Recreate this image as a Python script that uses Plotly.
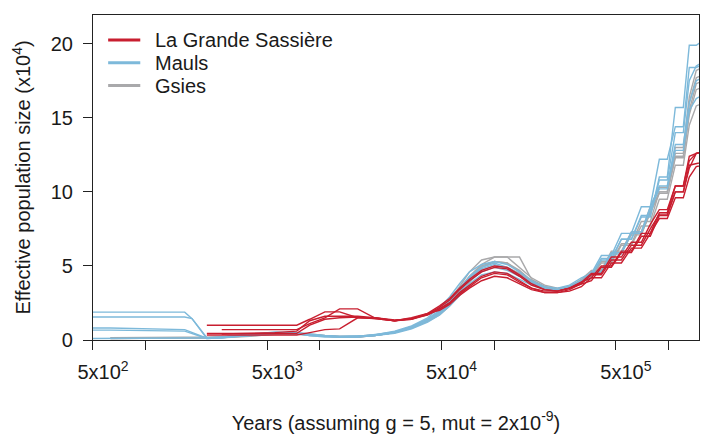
import plotly.graph_objects as go

# PSMC-style effective population size trajectories (x10^4), shared time grid (years)
years = [420, 630, 1680, 1850, 2250, 2740, 3970, 5520, 7380, 8760, 10700, 13000,
         16500, 20650, 26900, 33650, 41600, 48700, 55600, 63400, 72300, 84800,
         100600, 119000, 140000, 164000, 195000, 231000, 271000, 317000, 362000,
         413000, 471000, 538000, 614000, 700000, 788000, 888000, 986000, 1097000,
         1219000, 1319000, 1446000, 1717000]

gsies = [
    [None, 0.12, 0.12, 0.12, 0.15, 0.2, 0.3, 0.45, 0.45, 0.35, 0.25, 0.2, 0.2, 0.3, 0.5, 0.8,
     1.3, 1.8, 2.4, 3.2, 4.1, 4.9, 5.3, 5.2, 4.7, 4.0, 3.6, 3.4, 3.6, 4.0, 4.6, 4.6, 5.9,
     5.9, 7.2, 7.2, 8.6, 9.9, 9.9, 12.3, 12.3, 15.2, 16.9, 17.3],
    [None, 0.1, 0.1, 0.1, 0.12, 0.15, 0.25, 0.4, 0.4, 0.3, 0.25, 0.2, 0.22, 0.3, 0.5, 0.85,
     1.35, 1.9, 2.6, 3.4, 4.3, 5.1, 5.6, 5.6, 5.6, 4.1, 3.6, 3.4, 3.6, 4.0, 4.3, 5.3, 5.3,
     6.5, 6.5, 8.0, 8.0, 10.0, 10.0, 12.6, 12.6, 16.0, 17.7, 18.1],
    [None, 0.15, 0.15, 0.15, 0.15, 0.2, 0.35, 0.5, 0.5, 0.4, 0.3, 0.25, 0.25, 0.35, 0.55, 0.9,
     1.4, 2.0, 2.7, 3.6, 4.6, 5.4, 5.6, 5.6, 4.9, 4.2, 3.7, 3.5, 3.6, 4.1, 4.7, 4.7, 6.0,
     6.0, 7.3, 7.3, 9.0, 10.3, 10.3, 13.0, 13.0, 16.4, 18.2, 18.6],
    [None, 0.1, 0.1, 0.12, 0.15, 0.18, 0.3, 0.4, 0.45, 0.35, 0.25, 0.2, 0.2, 0.3, 0.5, 0.8,
     1.25, 1.7, 2.3, 3.0, 3.9, 4.7, 5.0, 4.9, 4.5, 3.9, 3.5, 3.4, 3.5, 3.9, 4.2, 5.2, 5.2,
     6.4, 6.4, 7.7, 7.7, 9.5, 9.5, 11.8, 11.8, 14.5, 15.8, 16.2],
    [None, 0.12, 0.12, 0.12, 0.15, 0.2, 0.3, 0.45, 0.45, 0.35, 0.28, 0.22, 0.22, 0.32, 0.5, 0.85,
     1.3, 1.85, 2.5, 3.3, 4.2, 5.0, 5.3, 5.2, 4.6, 4.0, 3.6, 3.4, 3.6, 4.0, 4.6, 4.6, 5.9,
     5.9, 7.1, 7.1, 8.6, 10.0, 10.0, 12.4, 12.4, 15.5, 17.3, 17.7],
]

mauls = [
    [1.88, 1.88, 1.88, 1.44, 0.1, 0.15, 0.35, 0.55, 0.5, 0.35, 0.25, 0.2, 0.22, 0.35, 0.55, 0.9,
     1.4, 2.0, 2.6, 3.5, 4.3, 4.9, 5.2, 4.9, 4.4, 3.9, 3.5, 3.4, 3.6, 4.0, 4.4, 5.5, 5.5,
     6.8, 6.8, 8.3, 8.3, 11.0, 11.0, 15.7, 15.7, 19.9, 19.9, 20.5],
    [1.55, 1.55, 1.55, 1.45, 0.15, 0.2, 0.4, 0.5, 0.45, 0.35, 0.25, 0.2, 0.2, 0.3, 0.5, 0.8,
     1.3, 1.8, 2.4, 3.2, 4.0, 4.6, 4.9, 4.7, 4.3, 3.8, 3.5, 3.3, 3.5, 3.9, 4.6, 4.6, 5.9,
     5.9, 7.3, 7.3, 9.0, 10.4, 10.4, 13.2, 13.2, 16.0, 17.5, 18.0],
    [0.81, 0.81, 0.7, 0.5, 0.12, 0.2, 0.3, 0.45, 0.4, 0.3, 0.25, 0.22, 0.25, 0.35, 0.6, 0.95,
     1.5, 2.2, 2.9, 3.8, 4.6, 5.1, 5.3, 5.1, 4.6, 4.0, 3.6, 3.5, 3.7, 4.2, 4.5, 5.7, 5.7,
     7.2, 7.2, 9.0, 9.0, 12.2, 12.2, 14.4, 14.4, 18.4, 18.4, 18.8],
    [0.67, 0.67, 0.6, 0.45, 0.1, 0.15, 0.35, 0.5, 0.45, 0.3, 0.2, 0.2, 0.22, 0.3, 0.45, 0.75,
     1.2, 1.7, 2.3, 3.0, 3.8, 4.4, 4.6, 4.5, 4.1, 3.7, 3.4, 3.3, 3.5, 3.9, 4.6, 4.6, 5.8,
     5.8, 7.2, 7.2, 8.8, 10.2, 10.2, 12.8, 12.8, 15.5, 16.3, 16.8],
    [0.1, 0.1, 0.1, 0.1, 0.1, 0.15, 0.3, 0.45, 0.5, 0.4, 0.3, 0.25, 0.25, 0.3, 0.5, 0.85,
     1.35, 1.9, 2.5, 3.4, 4.2, 4.8, 5.1, 4.8, 4.4, 3.9, 3.5, 3.4, 3.6, 4.0, 4.4, 5.4, 5.4,
     6.8, 6.8, 8.4, 8.4, 10.8, 10.8, 14.0, 14.0, 17.5, 18.5, 19.0],
]

sassiere = [
    [None, None, None, None, 1.0, 1.0, 1.0, 1.0, 1.0, 1.4, 1.9, 1.9, 1.5, 1.45, 1.3, 1.4,
     1.7, 2.1, 2.5, 3.2, 3.7, 4.3, 4.6, 4.5, 4.0, 3.5, 3.2, 3.2, 3.4, 3.8, 4.4, 4.4, 5.4,
     5.4, 6.4, 6.4, 7.5, 8.5, 8.5, 10.0, 10.0, 11.6, 12.6, 12.8],
    [None, None, None, None, None, 0.7, 0.7, 0.7, 0.7, 1.1, 1.5, 2.1, 2.1, 1.5, 1.3, 1.45,
     1.75, 2.2, 2.7, 3.4, 4.0, 4.6, 4.9, 4.8, 4.3, 3.7, 3.4, 3.3, 3.5, 3.9, 4.2, 5.0, 5.0,
     6.0, 6.0, 7.2, 7.2, 8.6, 8.6, 10.4, 10.4, 12.4, 12.6, 12.8],
    [None, None, None, None, 0.34, 0.34, 0.34, 0.34, 0.34, 0.5, 0.7, 0.75, 1.5, 1.5, 1.35, 1.4,
     1.8, 2.0, 2.4, 3.0, 3.5, 4.0, 4.3, 4.2, 3.8, 3.4, 3.2, 3.2, 3.3, 3.6, 4.2, 4.2, 5.2,
     5.2, 6.2, 6.2, 7.2, 8.2, 8.2, 9.6, 9.6, 11.0, 11.7, 11.9],
    [None, None, None, None, 0.45, 0.45, 0.45, 0.45, 0.45, 1.0, 1.4, 1.5, 1.55, 1.45, 1.3, 1.45,
     1.7, 2.1, 2.5, 3.1, 3.6, 4.2, 4.5, 4.4, 3.9, 3.5, 3.3, 3.3, 3.5, 3.8, 4.0, 4.9, 4.9,
     5.9, 5.9, 7.0, 7.0, 8.4, 8.4, 10.0, 10.0, 11.8, 11.9, 12.1],
    [None, None, None, None, None, 0.4, 0.45, 0.5, 0.6, 1.3, 1.6, 1.6, 1.6, 1.5, 1.3, 1.5,
     1.8, 2.3, 2.8, 3.5, 4.1, 4.7, 5.0, 4.9, 4.4, 3.8, 3.4, 3.3, 3.5, 3.9, 4.5, 4.5, 5.6,
     5.6, 6.6, 6.6, 7.8, 8.8, 8.8, 10.4, 10.4, 12.1, 12.6, 12.8],
]

# drawing order (back to front) and legend order (top to bottom)
populations = [('Gsies', gsies, '#a9a9ab'),
               ('Mauls', mauls, '#7db9da'),
               ('La Grande Sassière', sassiere, '#c81e2f')]
legend_order = ['La Grande Sassière', 'Mauls', 'Gsies']

x_tickvals = [500, 5000, 50000, 500000]
x_ticktext = ['5x10<sup>2</sup>', '5x10<sup>3</sup>', '5x10<sup>4</sup>', '5x10<sup>5</sup>']
x_minor = [1000, 10000, 100000, 1000000]
y_tickvals = [0, 5, 10, 15, 20]

FONT = 'Liberation Sans, Arial, sans-serif'
AX = '#222222'
FS = 20

fig = go.Figure()
colors = {}
for name, runs, color in populations:
    colors[name] = color
    for ys in runs:
        fig.add_trace(go.Scatter(x=years, y=ys, mode='lines', name=name,
                                 line=dict(color=color, width=1.4),
                                 showlegend=False, hoverinfo='skip'))

# R-style legend: short thick keys, tight rows, top-left inside the box
for i, name in enumerate(legend_order):
    yy = 0.923 - i * 0.07
    fig.add_shape(type='line', xref='paper', yref='paper',
                  x0=0.025, x1=0.078, y0=yy, y1=yy,
                  line=dict(color=colors[name], width=3))
    fig.add_annotation(xref='paper', yref='paper', x=0.099, y=yy,
                       xanchor='left', yanchor='middle', showarrow=False,
                       text=name, font=dict(size=FS, color='#1a1a1a'))

fig.update_layout(
    width=708, height=440,
    margin=dict(l=93, r=9, t=15, b=100),
    paper_bgcolor='white', plot_bgcolor='white',
    font=dict(family=FONT, size=FS, color='#1a1a1a'),
    showlegend=False,
    xaxis=dict(type='log', range=[2.699, 6.176], automargin=False,
               tickvals=x_tickvals, ticktext=x_ticktext,
               ticks='outside', ticklen=9, tickcolor=AX, tickwidth=1.2,
               ticklabelshift=10, ticklabelstandoff=5,
               minor=dict(tickvals=x_minor, ticks='outside', ticklen=9,
                          tickcolor=AX, tickwidth=1.2, showgrid=False),
               showline=True, linecolor=AX, linewidth=1.2, mirror=True,
               showgrid=False, zeroline=False,
               tickfont=dict(size=FS),
               title=dict(text='Years (assuming g = 5, mut = 2x10<sup>-9</sup>)',
                          standoff=33, font=dict(size=FS))),
    yaxis=dict(range=[0, 21.94], tickvals=y_tickvals, automargin=False,
               ticks='outside', ticklen=9, tickcolor=AX, tickwidth=1.2,
               ticklabelstandoff=6,
               showline=True, linecolor=AX, linewidth=1.2, mirror=True,
               showgrid=False, zeroline=False,
               tickfont=dict(size=FS),
               title=dict(text='Effective population size (x10<sup>4</sup>)',
                          standoff=14, font=dict(size=FS))),
)

fig.write_html('out.html', config={'displayModeBar': False},
               post_script="document.body.style.margin='0';")
